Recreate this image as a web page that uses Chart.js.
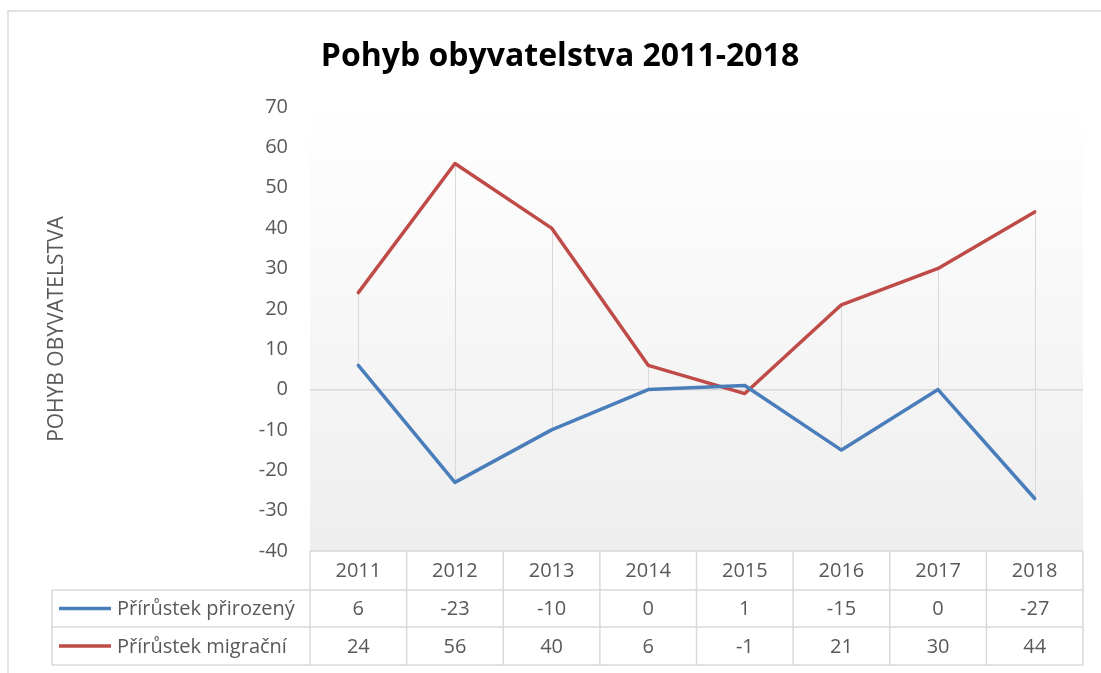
<!DOCTYPE html>
<html>
<head>
<meta charset="utf-8">
<script src="https://cdn.jsdelivr.net/npm/chart.js@4"></script>
<style>
  body { margin: 0; background: #fff; }
</style>
</head>
<body>
<canvas id="chart" width="1101" height="673"></canvas>
<script>
// data
const years = ['2011', '2012', '2013', '2014', '2015', '2016', '2017', '2018'];
const prirozeny = [6, -23, -10, 0, 1, -15, 0, -27];
const migracni = [24, 56, 40, 6, -1, 21, 30, 44];
const seriesNames = ['Přírůstek přirozený', 'Přírůstek migrační'];
const yMin = -40;
const yMax = 70;
const yStep = 10;
const chartTitle = 'Pohyb obyvatelstva 2011-2018';
const axisTitle = 'POHYB OBYVATELSTVA';

const FONT = '"Open Sans", sans-serif';
const GRAY = '#595959';
const LINE = '#d9d9d9';
const colors = ['#4a7ebb', '#be4b48'];

// ramecek + prechod pozadi
const framePlugin = {
    id: 'frame',
    beforeDraw(chart) {
        const { ctx, chartArea: a } = chart;
        ctx.save();
        ctx.fillStyle = '#fff';
        ctx.fillRect(0, 0, chart.width, chart.height);
        ctx.strokeStyle = LINE;
        ctx.lineWidth = 1.5;
        ctx.beginPath();
        ctx.moveTo(8, chart.height + 5);
        ctx.lineTo(8, 11);
        ctx.lineTo(chart.width + 5, 11);
        ctx.stroke();
        const g = ctx.createLinearGradient(0, a.top, 0, a.bottom);
        g.addColorStop(0, '#ffffff');
        g.addColorStop(1, '#eeeeee');
        ctx.fillStyle = g;
        ctx.fillRect(a.left, a.top, a.right - a.left, a.bottom - a.top);
        ctx.restore();
    },
};

// spojnice max-min
const hiLoPlugin = {
    id: 'hiLo',
    beforeDatasetsDraw(chart) {
        const { ctx } = chart;
        const x = chart.scales.x;
        const y = chart.scales.y;
        ctx.save();
        ctx.strokeStyle = LINE;
        ctx.lineWidth = 1;
        years.forEach((yr, i) => {
            const vals = chart.data.datasets.map((d) => d.data[i]);
            const px = Math.round(x.getPixelForValue(i)) + 0.5;
            ctx.beginPath();
            ctx.moveTo(px, y.getPixelForValue(Math.max(...vals)));
            ctx.lineTo(px, y.getPixelForValue(Math.min(...vals)));
            ctx.stroke();
        });
        ctx.restore();
    },
};

// nadpis + tabulka dat
const tablePlugin = {
    id: 'dataTable',
    afterDraw(chart) {
        const { ctx, chartArea: a } = chart;
        const x = chart.scales.x;
        const step = x.getPixelForValue(1) - x.getPixelForValue(0);
        const rows = [a.bottom, a.bottom + 39, a.bottom + 76, a.bottom + 114];
        const legLeft = 52;

        ctx.save();
        ctx.fillStyle = '#000';
        ctx.font = `bold 32px ${FONT}`;
        ctx.textAlign = 'center';
        ctx.textBaseline = 'alphabetic';
        ctx.fillText(chartTitle, 560, 66);

        ctx.strokeStyle = LINE;
        ctx.lineWidth = 1.5;
        ctx.beginPath();
        // vodorovne
        ctx.moveTo(a.left, rows[0]);
        ctx.lineTo(a.right, rows[0]);
        for (let r = 1; r < rows.length; r++) {
            ctx.moveTo(legLeft, rows[r]);
            ctx.lineTo(a.right, rows[r]);
        }
        // svisle
        ctx.moveTo(legLeft, rows[1]);
        ctx.lineTo(legLeft, rows[3]);
        for (let i = 0; i <= years.length; i++) {
            const px = a.left + i * step;
            ctx.moveTo(px, rows[0]);
            ctx.lineTo(px, rows[3]);
        }
        ctx.stroke();

        ctx.fillStyle = GRAY;
        ctx.font = `20px ${FONT}`;
        ctx.textBaseline = 'middle';
        ctx.textAlign = 'center';
        years.forEach((yr, i) => {
            const px = x.getPixelForValue(i);
            ctx.fillText(yr, px, (rows[0] + rows[1]) / 2 + 1);
            chart.data.datasets.forEach((d, k) => {
                ctx.fillText(String(d.data[i]), px, (rows[k + 1] + rows[k + 2]) / 2 + 1);
            });
        });

        chart.data.datasets.forEach((d, k) => {
            const cy = (rows[k + 1] + rows[k + 2]) / 2;
            ctx.strokeStyle = d.borderColor;
            ctx.lineWidth = 3.5;
            ctx.beginPath();
            ctx.moveTo(59, cy);
            ctx.lineTo(111, cy);
            ctx.stroke();
            ctx.textAlign = 'left';
            ctx.fillStyle = GRAY;
            ctx.fillText(d.label, 117, cy + 1);
        });
        ctx.restore();
    },
};

new Chart(document.getElementById('chart'), {
    type: 'line',
    data: {
        labels: years,
        datasets: [
            { label: seriesNames[0], data: prirozeny, borderColor: colors[0] },
            { label: seriesNames[1], data: migracni, borderColor: colors[1] },
        ],
    },
    options: {
        responsive: false,
        animation: false,
        layout: { padding: { left: 38, top: 107, right: 18, bottom: 122 } },
        elements: {
            line: { borderWidth: 3.5, tension: 0, borderCapStyle: 'round', borderJoinStyle: 'round' },
            point: { radius: 0, hoverRadius: 0 },
        },
        plugins: {
            legend: { display: false },
            title: { display: false },
            tooltip: { enabled: false },
        },
        scales: {
            x: { type: 'category', offset: true, display: false },
            y: {
                min: yMin,
                max: yMax,
                ticks: { stepSize: yStep, padding: 22, color: GRAY, font: { family: FONT, size: 20 } },
                grid: {
                    drawTicks: false,
                    lineWidth: 1.5,
                    color: (c) => (c.tick && c.tick.value === 0 ? LINE : 'rgba(0,0,0,0)'),
                },
                border: { display: false },
                title: {
                    display: true,
                    text: axisTitle,
                    color: GRAY,
                    font: { family: FONT, size: 21 },
                    padding: { top: 6, bottom: 0 },
                },
                afterFit: (s) => {
                    s.width = 310 - 38;
                },
            },
        },
    },
    plugins: [framePlugin, hiLoPlugin, tablePlugin],
});
</script>
</body>
</html>
